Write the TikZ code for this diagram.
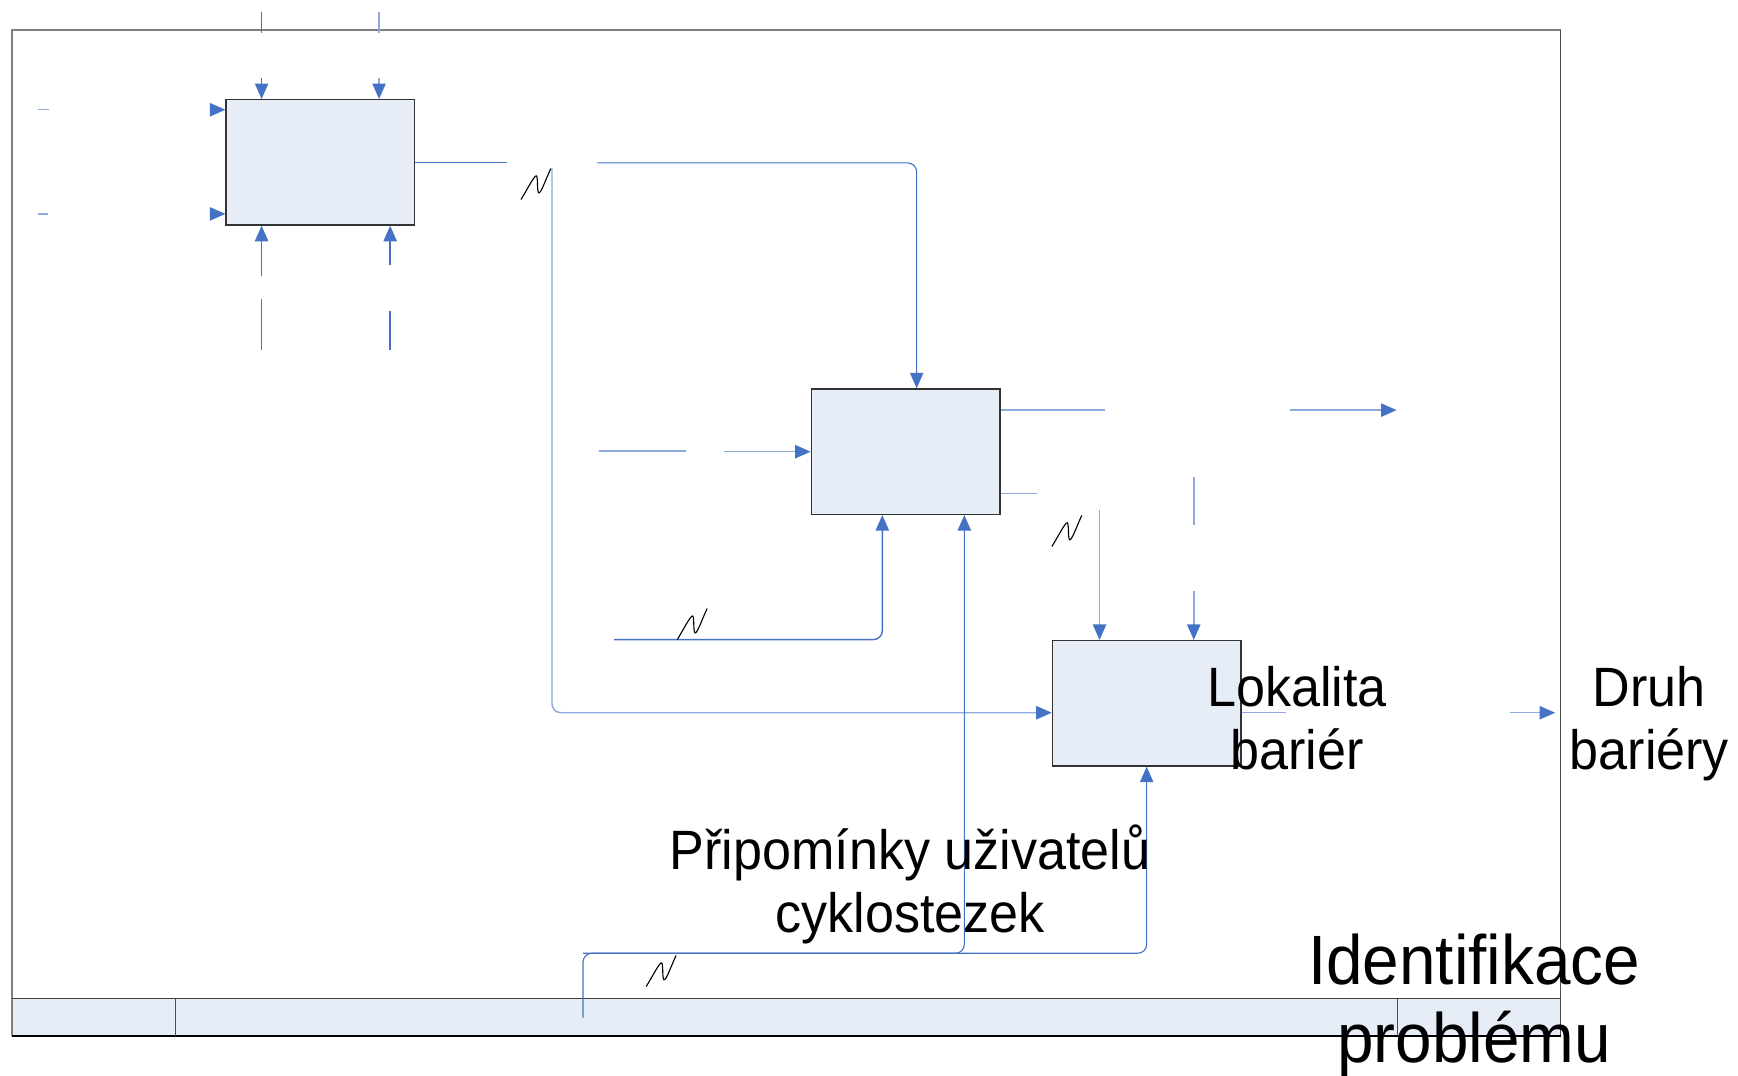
\documentclass[tikz,border=0pt]{standalone}
\usepackage{fontspec}
\setmainfont{Liberation Sans}[FakeStretch=0.94]
\usetikzlibrary{arrows.meta}
\definecolor{flow}{HTML}{4472C4}
\definecolor{flowlight}{HTML}{8EAADB}
\definecolor{boxfill}{HTML}{E6EDF7}
\definecolor{framegray}{HTML}{808080}
\tikzset{
  flowline/.style={draw=flow,line width=1.3pt},
  lightline/.style={draw=flowlight,line width=1.3pt},
  arr/.style={flowline,rounded corners=8pt,-{Triangle[length=14pt,width=12pt]}},
  arrl/.style={lightline,rounded corners=8pt,-{Triangle[length=14pt,width=12pt,color=flow]}},
  activity/.style={draw=black!80,line width=1.3pt,fill=boxfill,
    minimum width=170pt,minimum height=113pt,inner sep=0pt},
  txt/.style={align=center,inner sep=0pt,font=\fontsize{50}{57}\selectfont},
  squiggle/.pic={\draw[black,line width=1pt] (0,28) .. controls (5,20) and (10,10) .. (13,7)
      .. controls (16,4) and (14,20) .. (16,22) .. controls (18,23) and (23,8) .. (27,0);}
}
\begin{document}
\begin{tikzpicture}[x=1pt,y=-1pt]
\useasboundingbox (0,0) rectangle (1568,970);

% frame and bottom strip
\fill[boxfill] (11,901) rectangle (1408,935);
\draw[framegray,line width=2pt] (11,935) -- (11,27) -- (1408,27);
\draw[black!70,line width=0.8pt] (1408,27) -- (1408,935);
\draw[black!75,line width=1.2pt] (11,901) -- (1408,901);
\draw[black,line width=2pt] (11,935) -- (1408,935);
\draw[black!70,line width=1pt] (158,901) -- (158,935) (1261,901) -- (1261,935);

% activity boxes
\node[activity] (b1) at (289,146.5) {};
\node[activity] (b2) at (817,407.5) {};
\node[activity] (b3) at (1034.5,634.5) {};

% box 1: controls from above
\draw[flowline] (236,11) -- (236,30);
\draw[lightline] (342,11) -- (342,30);
\coordinate (ct1) at (236,70);
\coordinate (ct2) at (342,70);
\draw[arr] (ct1) -- (ct1 |- b1.north);
\draw[arrl] (ct2) -- (ct2 |- b1.north);

% box 1: inputs from the left
\draw[lightline] (34,99) -- (44,99) (34,193) -- (43,193);
\coordinate (li1) at (194,99);
\coordinate (li2) at (194,193);
\draw[arr] (li1) -- (li1 -| b1.west);
\draw[arr] (li2) -- (li2 -| b1.west);

% box 1: mechanisms from below
\coordinate (m1) at (236,249);
\coordinate (m2) at (352,239);
\draw[arr] (m1) -- (m1 |- b1.south);
\draw[arr] (m2) -- (m2 |- b1.south);
\draw[flowline] (236,270) -- (236,316) (352,281) -- (352,316);

% box 1: output
\coordinate (o1a) at (457,147);
\draw[flowline,line width=1pt] (o1a -| b1.east) -- (o1a);
\coordinate (o1) at (539,147);
\coordinate (k2) at (827,147);
\draw[arr,line width=1pt] (o1) -- (k2) -- (k2 |- b2.north);
\coordinate (v1) at (498,152);
\coordinate (v2) at (498,643);
\draw[arrl] (v1) -- (v2) -- (v2 -| b3.west);

% box 2: input
\draw[lightline] (540,407) -- (619,407);
\coordinate (i2) at (653,407.5);
\draw[arrl] (i2) -- (b2.west);

% box 2: outputs
\coordinate (e1) at (997,370);
\draw[lightline] (e1 -| b2.east) -- (e1);
\coordinate (e2) at (1164,370);
\coordinate (e3) at (1260,370);
\draw[arrl] (e2) -- (e3);
\coordinate (e4) at (936,445);
\draw[lightline] (e4 -| b2.east) -- (e4);

% box 2: control from below
\coordinate (c2a) at (554,577);
\coordinate (c2b) at (796,577);
\draw[arr] (c2a) -- (c2b) -- (c2b |- b2.south);

% mechanism bus along the bottom
\coordinate (m3a) at (526,918);
\coordinate (m3b) at (526,860);
\coordinate (m3c) at (870,860);
\coordinate (m3d) at (1034.5,860);
\draw[arr,line width=1pt] (m3a) -- (m3b) -- (m3c) -- (m3c |- b2.south);
\draw[arr,line width=1pt] (m3b) -- (m3d) -- (b3.south);

% box 3: controls from above
\coordinate (t3a) at (992,460);
\draw[arrl] (t3a) -- (t3a |- b3.north);
\draw[lightline] (1077,430) -- (1077,474);
\coordinate (t3b) at (1077,533);
\draw[arrl] (t3b) -- (t3b |- b3.north);

% box 3: outputs
\coordinate (r3) at (1160,643);
\draw[lightline] (r3 -| b3.east) -- (r3);
\coordinate (r3a) at (1362,643);
\coordinate (r3b) at (1403,643);
\draw[arrl] (r3a) -- (r3b);

% tunnel marks
\pic at (470,152) {squiggle};
\pic at (611,549) {squiggle};
\pic at (949,465) {squiggle};
\pic at (583,862) {squiggle};

% labels
\node[txt] (lok) at (1170,648) {Lokalita\\bariér};
\node[txt] (druh) at (1488,653) {Druh\\bariéry};
\node[txt] (pripom) at (821,798) {Připomínky uživatelů\\cyklostezek};
\node[txt,font=\fontsize{63}{70}\selectfont] (ident) at (1330,907) {Identifikace\\problému};
\end{tikzpicture}
\end{document}
